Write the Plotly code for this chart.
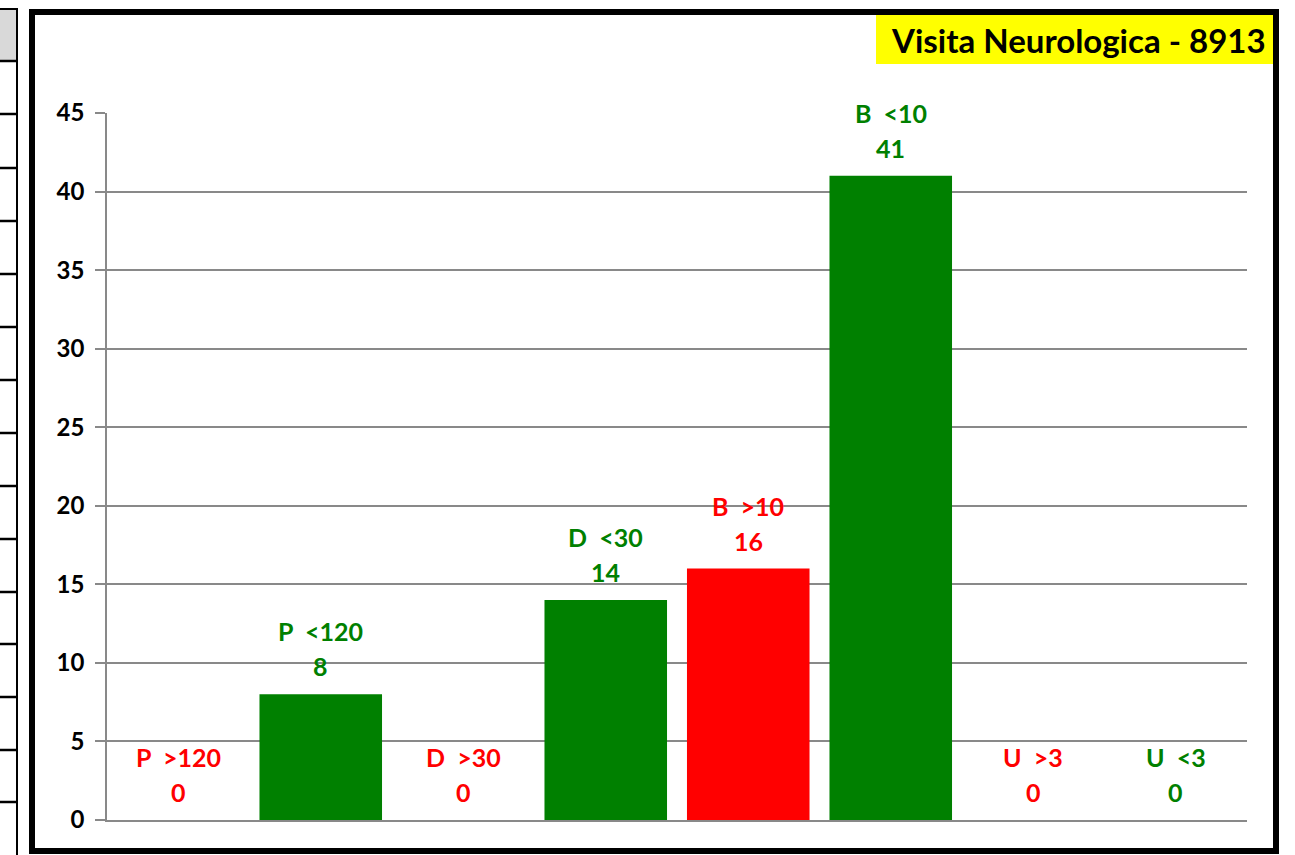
import plotly.graph_objects as go

categories = ["P  >120", "P  <120", "D  >30", "D  <30", "B  >10", "B  <10", "U  >3", "U  <3"]
values = [0, 8, 0, 14, 16, 41, 0, 0]
label_colors = ["#FF0000", "#008000", "#FF0000", "#008000", "#FF0000", "#008000", "#FF0000", "#008000"]
bar_colors = ["#FF0000", "#008000", "#FF0000", "#008000", "#FF0000", "#008000", "#FF0000", "#008000"]
y_ticks = [0, 5, 10, 15, 20, 25, 30, 35, 40, 45]
title_text = "Visita Neurologica - 8913"

W, H = 1295, 855
L, R, T, B = 107, 1247, 113, 820
FONT = "Lato, 'Open Sans', sans-serif"

def px_x(px):
    return (px - L) / (R - L)

def px_y(py):
    return (B - py) / (B - T)

x_idx = list(range(len(categories)))

fig = go.Figure()
fig.add_trace(go.Bar(
    x=x_idx, y=values,
    marker=dict(color=bar_colors, line=dict(width=0)),
    width=0.86,
    hoverinfo="skip",
))

annotations = []
for i, (c, v, col) in enumerate(zip(categories, values, label_colors)):
    annotations.append(dict(
        x=i, y=v, xref="x", yref="y",
        text="<b>" + c.replace(" ", "\u00a0") + "</b>",
        showarrow=False, yanchor="middle", yshift=63,
        font=dict(family=FONT, size=25, color=col),
    ))
    annotations.append(dict(
        x=i, y=v, xref="x", yref="y",
        text="<b>%d</b>" % v,
        showarrow=False, yanchor="middle", yshift=28,
        font=dict(family=FONT, size=25, color=col),
    ))

# title in yellow box
annotations.append(dict(
    x=px_x(1268), y=px_y(40), xref="paper", yref="paper",
    text="<b>" + title_text + "</b>", showarrow=False,
    xanchor="right", yanchor="middle",
    font=dict(family=FONT, size=33, color="black"),
))

shapes = []
# yellow box
shapes.append(dict(type="rect", xref="paper", yref="paper",
                   x0=px_x(876), x1=px_x(1273), y0=px_y(64), y1=px_y(15),
                   fillcolor="#FFFF00", line=dict(width=0), layer="below"))
# outer frame
shapes.append(dict(type="rect", xref="paper", yref="paper",
                   x0=px_x(32), x1=px_x(1276), y0=px_y(851), y1=px_y(12),
                   line=dict(color="black", width=6), fillcolor="rgba(0,0,0,0)"))
# left table fragment
shapes.append(dict(type="rect", xref="paper", yref="paper",
                   x0=px_x(-5), x1=px_x(16), y0=px_y(61), y1=px_y(10),
                   fillcolor="#D9D9D9", line=dict(width=0), layer="below"))
shapes.append(dict(type="line", xref="paper", yref="paper",
                   x0=px_x(17), x1=px_x(17), y0=px_y(858), y1=px_y(8),
                   line=dict(color="black", width=2)))
shapes.append(dict(type="line", xref="paper", yref="paper",
                   x0=px_x(-5), x1=px_x(17), y0=px_y(9), y1=px_y(9),
                   line=dict(color="black", width=2)))
for yy in [61, 114, 168, 221, 274, 327, 380, 433, 486, 539, 592, 644, 697, 750, 802]:
    shapes.append(dict(type="line", xref="paper", yref="paper",
                       x0=px_x(-5), x1=px_x(17), y0=px_y(yy), y1=px_y(yy),
                       line=dict(color="black", width=2.5)))

fig.update_layout(
    width=W, height=H,
    margin=dict(l=L, r=W - R, t=T, b=H - B, pad=0),
    paper_bgcolor="white", plot_bgcolor="white",
    showlegend=False,
    bargap=0.14,
    annotations=annotations,
    shapes=shapes,
    xaxis=dict(range=[-0.5, len(categories) - 0.5], showticklabels=False,
               showgrid=False, zeroline=False, showline=True,
               linecolor="#898989", linewidth=1.5, ticks="", fixedrange=True),
    yaxis=dict(range=[0, 45], tickvals=y_ticks,
               ticktext=["<b>%d</b>" % t for t in y_ticks],
               showgrid=True, gridcolor="#898989", gridwidth=1.5,
               zeroline=False, showline=True, linecolor="#898989", linewidth=1.5,
               ticks="outside", ticklen=10, tickcolor="#898989", tickwidth=1.5,
               ticklabelstandoff=6,
               tickfont=dict(family=FONT, size=24, color="black"),
               fixedrange=True),
)

fig.write_html("out.html", config={"displayModeBar": False},
               post_script="document.body.style.margin='0px';document.body.style.overflow='hidden';")
